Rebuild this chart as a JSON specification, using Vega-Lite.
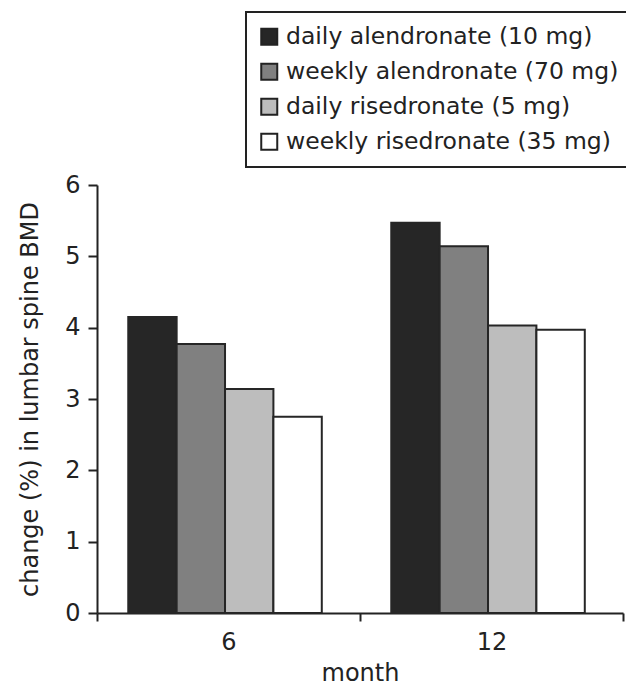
{
  "$schema": "https://vega.github.io/schema/vega-lite/v6.json",
  "width": 526,
  "height": 428,
  "autosize": {"type": "none"},
  "padding": {"left": 97, "top": 185, "right": 3, "bottom": 75},
  "background": "white",
  "config": {
    "view": {"stroke": null},
    "font": "DejaVu Sans",
    "axis": {"grid": false, "domainColor": "#222", "domainWidth": 2, "tickColor": "#222", "tickWidth": 2, "labelColor": "#222", "labelFontSize": 24, "titleColor": "#222", "titleFontSize": 24, "titleFontWeight": "normal", "labelFont": "DejaVu Sans", "titleFont": "DejaVu Sans"},
    "legend": {"strokeWidth": 2}
  },
  "data": {
    "values": [
      {"month": "6", "treatment": "daily alendronate (10 mg)", "change": 4.15},
      {"month": "6", "treatment": "weekly alendronate (70 mg)", "change": 3.77},
      {"month": "6", "treatment": "daily risedronate (5 mg)", "change": 3.14},
      {"month": "6", "treatment": "weekly risedronate (35 mg)", "change": 2.75},
      {"month": "12", "treatment": "daily alendronate (10 mg)", "change": 5.47},
      {"month": "12", "treatment": "weekly alendronate (70 mg)", "change": 5.14},
      {"month": "12", "treatment": "daily risedronate (5 mg)", "change": 4.03},
      {"month": "12", "treatment": "weekly risedronate (35 mg)", "change": 3.97}
    ]
  },
  "mark": {"type": "bar", "stroke": "#262626", "strokeWidth": 2},
  "encoding": {
    "x": {
      "field": "month", "type": "nominal", "sort": ["6", "12"],
      "scale": {"paddingInner": 0, "paddingOuter": 0},
      "axis": {"title": "month", "labelAngle": 0, "tickBand": "extent", "tickSize": 8, "labelPadding": 9, "titlePadding": 7}
    },
    "xOffset": {
      "field": "treatment", "type": "nominal",
      "sort": ["daily alendronate (10 mg)", "weekly alendronate (70 mg)", "daily risedronate (5 mg)", "weekly risedronate (35 mg)"],
      "scale": {"paddingInner": 0, "paddingOuter": 0.718, "align": 0.45}
    },
    "y": {
      "field": "change", "type": "quantitative",
      "scale": {"domain": [0, 6], "nice": false},
      "axis": {"title": "change (%) in lumbar spine BMD", "values": [0, 1, 2, 3, 4, 5, 6], "tickSize": 9, "labelPadding": 8, "titlePadding": 22}
    },
    "fill": {
      "field": "treatment", "type": "nominal",
      "scale": {
        "domain": ["daily alendronate (10 mg)", "weekly alendronate (70 mg)", "daily risedronate (5 mg)", "weekly risedronate (35 mg)"],
        "range": ["#262626", "#808080", "#bdbdbd", "#ffffff"]
      },
      "legend": {
        "title": null, "orient": "none", "legendX": 149, "legendY": -173,
        "strokeColor": "#222", "padding": 13,
        "symbolType": "square", "symbolSize": 256, "symbolStrokeColor": "#222", "symbolStrokeWidth": 2, "symbolOffset": -1.5,
        "labelFontSize": 23.5, "labelColor": "#222", "labelOffset": 5, "rowPadding": 10, "labelLimit": 0,
        "labelFont": "DejaVu Sans"
      }
    }
  }
}
